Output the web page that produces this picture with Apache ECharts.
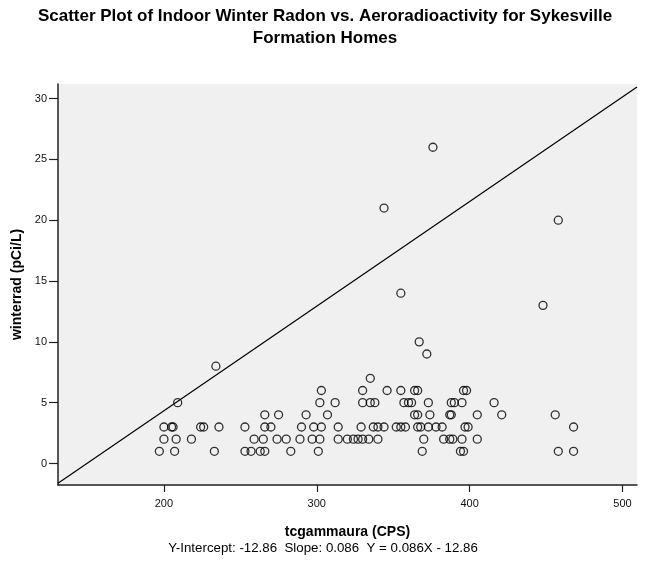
<!DOCTYPE html>
<html>
<head>
<meta charset="utf-8">
<script src="https://cdn.jsdelivr.net/npm/echarts@6/dist/echarts.min.js"></script>
<style>html,body{margin:0;padding:0;background:#fff;}#c{width:650px;height:563px;}</style>
</head>
<body>
<div id="c"></div>
<script>
// tcgammaura (CPS) values and matching winterrad (pCi/L) values
const tcgammaura = [
  197, 207, 233, 253, 257, 263, 266, 283, 301, 369, 394, 396, 458, 468,
  200, 208, 218, 259, 265, 274, 280, 289, 297, 302, 314, 320, 324, 327, 330, 334, 340, 370, 383, 387, 389, 395, 405,
  200, 205, 206, 224, 226, 236, 253, 266, 270, 290, 298, 303, 314, 329, 337, 340, 344, 352, 355, 358, 366, 368, 373, 378, 382, 397, 399, 468,
  266, 275, 293, 307, 364, 366, 374, 387, 388, 405, 421, 456,
  209, 302, 312, 330, 335, 338, 357, 360, 362, 373, 388, 390, 395, 416,
  303, 330, 346, 355, 364, 366, 396, 398,
  335, 234, 372, 367, 448, 355, 458, 344, 376
];
const winterrad = [
  1, 1, 1, 1, 1, 1, 1, 1, 1, 1, 1, 1, 1, 1,
  2, 2, 2, 2, 2, 2, 2, 2, 2, 2, 2, 2, 2, 2, 2, 2, 2, 2, 2, 2, 2, 2, 2,
  3, 3, 3, 3, 3, 3, 3, 3, 3, 3, 3, 3, 3, 3, 3, 3, 3, 3, 3, 3, 3, 3, 3, 3, 3, 3, 3, 3,
  4, 4, 4, 4, 4, 4, 4, 4, 4, 4, 4, 4,
  5, 5, 5, 5, 5, 5, 5, 5, 5, 5, 5, 5, 5, 5,
  6, 6, 6, 6, 6, 6, 6, 6,
  7, 8, 9, 10, 13, 14, 20, 21, 26
];
const xTicks = [200, 300, 400, 500];
const yTicks = [0, 5, 10, 15, 20, 25, 30];
const intercept = -12.86;
const slope = 0.086;
const xRange = [130.7, 509.5];
const yRange = [-1.77, 31.2];

const points = tcgammaura.map((x, i) => [x, winterrad[i]]);
const fitLine = xRange.map(x => [x, intercept + slope * x]);

const chart = echarts.init(document.getElementById('c'), null, {renderer: 'canvas'});
const FONT = '"Liberation Sans", Arial, sans-serif';
chart.setOption({
  backgroundColor: '#ffffff',
  animation: false,
  title: [
    {
      text: 'Scatter Plot of Indoor Winter Radon vs. Aeroradioactivity for Sykesville\nFormation Homes',
      left: 'center', top: 0,
      textStyle: {fontFamily: FONT, fontSize: 17, fontWeight: 'bold', color: '#000', lineHeight: 22, align: 'center'}
    },
    {
      text: 'Y-Intercept: -12.86  Slope: 0.086  Y = 0.086X - 12.86',
      left: 318, top: 537, textAlign: 'center',
      textStyle: {fontFamily: FONT, fontSize: 13.3, fontWeight: 'normal', color: '#000'}
    }
  ],
  grid: {
    left: 58, right: 13, top: 84, bottom: 78,
    show: true, backgroundColor: '#f0f0f0', borderWidth: 0
  },
  xAxis: {
    type: 'value', min: xRange[0], max: xRange[1],
    name: 'tcgammaura (CPS)', nameLocation: 'middle', nameGap: 40,
    nameTextStyle: {fontFamily: FONT, fontSize: 14, fontWeight: 'bold', color: '#000'},
    axisLine: {show: true, onZero: false, lineStyle: {color: '#222', width: 1.5}},
    axisTick: {show: true, length: 7, customValues: xTicks, lineStyle: {color: '#222', width: 1.2}},
    axisLabel: {customValues: xTicks, fontFamily: FONT, fontSize: 11, color: '#111', margin: 13},
    splitLine: {show: false}
  },
  yAxis: {
    type: 'value', min: yRange[0], max: yRange[1],
    name: 'winterrad (pCi/L)', nameLocation: 'middle', nameGap: 32, nameRotate: 90,
    nameTextStyle: {fontFamily: FONT, fontSize: 14, fontWeight: 'bold', color: '#000'},
    axisLine: {show: true, onZero: false, lineStyle: {color: '#222', width: 1.5}},
    axisTick: {show: true, length: 9, customValues: yTicks, lineStyle: {color: '#222', width: 1.2}},
    axisLabel: {customValues: yTicks, fontFamily: FONT, fontSize: 11, color: '#111', margin: 11},
    splitLine: {show: false}
  },
  series: [
    {
      type: 'line', data: fitLine, symbol: 'none', silent: true, clip: true,
      lineStyle: {color: '#000', width: 1.2}, z: 1
    },
    {
      type: 'scatter', data: points, symbol: 'circle', symbolSize: 8,
      itemStyle: {color: 'rgba(0,0,0,0)', borderColor: '#000', borderWidth: 1.3}, z: 2
    }
  ]
});
</script>
</body>
</html>
